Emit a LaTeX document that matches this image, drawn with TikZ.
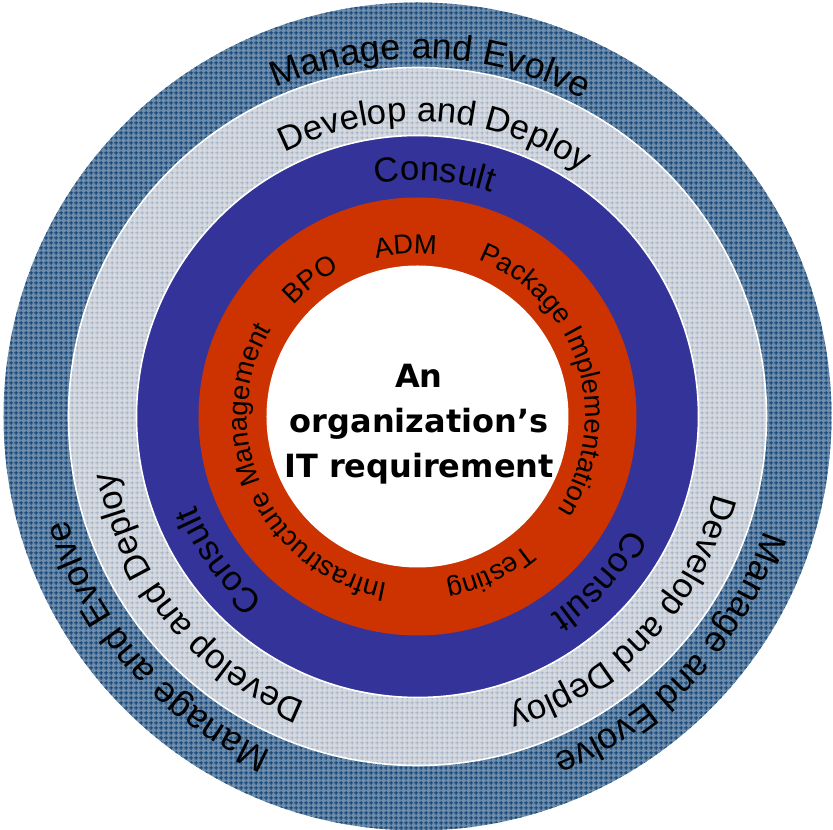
\documentclass[tikz,border=0pt]{standalone}
\usepackage{fontspec}
\usepackage{xcolor}
\usetikzlibrary{decorations.text,patterns.meta}

\newfontfamily\ringfont{Liberation Sans}
\newfontfamily\corefont{DejaVu Sans}
\newcommand{\evolvelabels}{\ringfont\fontsize{27}{32}\selectfont}
\newcommand{\outerlabels}{\ringfont\fontsize{26}{31}\selectfont}
\newcommand{\innerlabels}{\ringfont\fontsize{20.5}{24}\selectfont}

\definecolor{outerbase}{RGB}{111,141,171}
\definecolor{outerline}{RGB}{15,68,120}
\definecolor{greybase}{RGB}{214,218,224}
\definecolor{greyline}{RGB}{140,160,185}
\definecolor{consultblue}{RGB}{51,51,153}
\definecolor{servicered}{RGB}{204,51,0}

\tikzdeclarepattern{
  name=coarsemesh,
  type=uncolored,
  bounding box={(0pt,0pt) and (3.75pt,3.75pt)},
  tile size={(3.75pt,3.75pt)},
  code={
    \draw[line width=1pt] (0pt,1.875pt) -- (3.75pt,1.875pt) (1.875pt,0pt) -- (1.875pt,3.75pt);
  }
}
\tikzdeclarepattern{
  name=finemesh,
  type=uncolored,
  bounding box={(0pt,0pt) and (3.75pt,3.75pt)},
  tile size={(3.75pt,3.75pt)},
  code={
    \draw[line width=0.5pt] (0pt,1.875pt) -- (3.75pt,1.875pt) (1.875pt,0pt) -- (1.875pt,3.75pt);
  }
}

\tikzset{
  ringtext/.style={decorate, decoration={text along path, text align=center, text={#1}}},
  ringedge/.style={draw=white, line width=1.2pt},
  core/.style={align=center, inner sep=0pt, font=\corefont\bfseries\fontsize{24}{33.75}\selectfont}
}

\begin{document}
\begin{tikzpicture}[x=0.75pt,y=0.75pt]
\useasboundingbox (-417.5,-413.5) rectangle (415.5,416.5);

%Shape: Circle - Manage and Evolve
\fill[outerbase] (0,0) circle[radius=414];
\fill[pattern=coarsemesh, pattern color=outerline] (0,0) circle[radius=414];
%Shape: Circle - Develop and Deploy
\fill[greybase] (0,0) circle[radius=349];
\fill[pattern=finemesh, pattern color=greyline] (0,0) circle[radius=349];
\draw[ringedge] (0,0) circle[radius=349];
%Shape: Circle - Consult
\fill[consultblue] (0,0) circle[radius=281];
\draw[ringedge] (0,0) circle[radius=281];
%Shape: Circle - services
\fill[servicered] (0,0) circle[radius=219];
%Shape: Circle - core
\fill[white] (0,0) circle[radius=151];

% Curved Text - outer band
\path[ringtext={|\evolvelabels|Manage and Evolve}] (157.9:358) arc[start angle=157.9, end angle=17.9, radius=358];
\path[ringtext={|\evolvelabels|Manage and Evolve}] (291.4:365) arc[start angle=291.4, end angle=151.4, radius=365];
\path[ringtext={|\evolvelabels|Manage and Evolve}] (26.8:365) arc[start angle=26.8, end angle=-113.2, radius=365];
% Curved Text - grey band
\path[ringtext={|\outerlabels|Develop and Deploy}] (156.4:295) arc[start angle=156.4, end angle=16.4, radius=295];
\path[ringtext={|\outerlabels|Develop and Deploy}] (289.5:307) arc[start angle=289.5, end angle=149.5, radius=307];
\path[ringtext={|\outerlabels|Develop and Deploy}] (26.3:307) arc[start angle=26.3, end angle=-113.7, radius=307];
% Curved Text - blue band
\path[ringtext={|\outerlabels|Consult}] (156:236) arc[start angle=156, end angle=16, radius=236];
\path[ringtext={|\outerlabels|Consult}] (286:239) arc[start angle=286, end angle=146, radius=239];
\path[ringtext={|\outerlabels|Consult}] (28:239) arc[start angle=28, end angle=-112, radius=239];
% Curved Text - red band
\path[ringtext={|\innerlabels|ADM}] (179:163) arc[start angle=179, end angle=9, radius=163];
\path[ringtext={|\innerlabels|BPO}] (213:166) arc[start angle=213, end angle=43, radius=166];
\path[ringtext={|\innerlabels|Package Implementation}] (102.5:168) arc[start angle=102.5, end angle=-67.5, radius=168];
\path[ringtext={|\innerlabels|Testing}] (20:168) arc[start angle=20, end angle=-150, radius=168];
\path[ringtext={|\innerlabels|Infrastructure Management}] (289.5:170) arc[start angle=289.5, end angle=119.5, radius=170];

% Text Node
\node[core] (need) at (1.5,-7.5) {An\\organization’s\\IT requirement};
\end{tikzpicture}
\end{document}
